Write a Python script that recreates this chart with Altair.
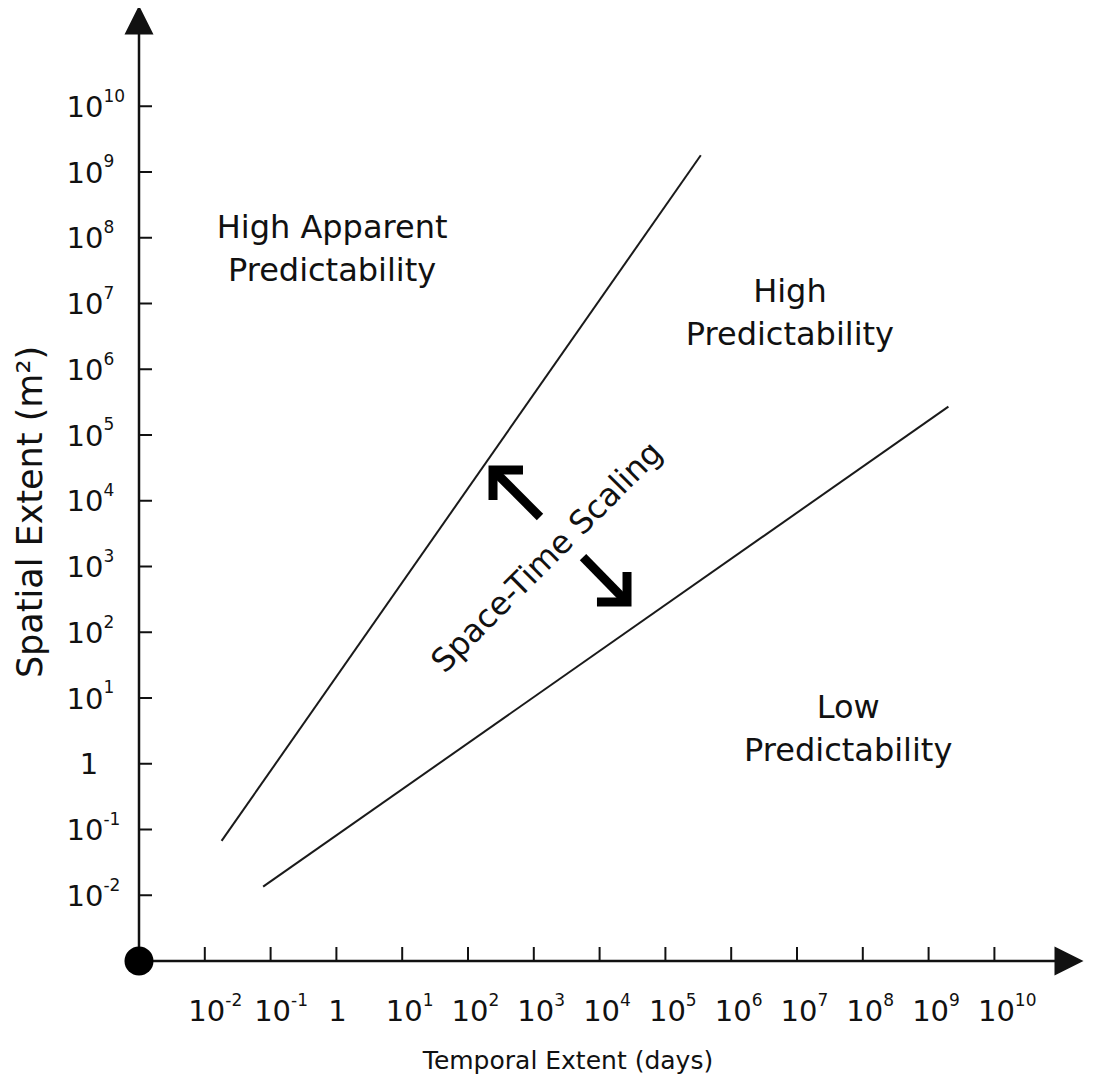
import altair as alt
import pandas as pd

# ---------------- data ----------------
tick_exponents = [-2, -1, 0, 1, 2, 3, 4, 5, 6, 7, 8, 9, 10]
tick_bases = ["10", "10", "1", "10", "10", "10", "10", "10", "10", "10", "10", "10", "10"]
tick_supers = ["-2", "-1", "", "1", "2", "3", "4", "5", "6", "7", "8", "9", "10"]

line_names = ["apparent", "limit"]
line_time_start = [0.018, 0.077]
line_time_end = [3.45e5, 2.0e9]
line_space_start = [0.067, 0.0135]
line_space_end = [1.8e9, 2.7e5]

region_labels = ["High Apparent\nPredictability", "High\nPredictability", "Low\nPredictability"]
region_time = [0.86, 7.8e6, 6.0e7]
region_space = [1.41e8, 1.5e7, 7.05]

scaling_label = ["Space-Time Scaling"]
scaling_time = [1600.0]
scaling_space = [1380.0]

arrow_part = ["up_shaft", "up_shaft", "up_head", "up_head", "up_head",
              "dn_shaft", "dn_shaft", "dn_head", "dn_head", "dn_head"]
arrow_time = [1242, 240, 685, 240, 240, 5598, 2.61e4, 9120, 2.61e4, 2.61e4]
arrow_space = [5662, 2.94e4, 2.94e4, 2.94e4, 1.026e4, 1393, 288, 288, 288, 824]

x_title = "Temporal Extent (days)"
y_title = "Spatial Extent (m²)"

# ---------------- layout ----------------
FONT = "DejaVu Sans"
INK = "#111111"
PX_X = 65.8
PX_Y = 65.75
W = 933
H = 947
AXIS_MIN = 1e-3
X_MAX = 10 ** (-3 + W / PX_X)
Y_MAX = 10 ** (-3 + H / PX_Y)
X_ARROW = 10 ** (-3 + (W - 3) / PX_X)
Y_ARROW = 10 ** (-3 + (H - 6) / PX_Y)

xs = alt.Scale(type="log", domain=[AXIS_MIN, X_MAX], nice=False)
ys = alt.Scale(type="log", domain=[AXIS_MIN, Y_MAX], nice=False)


def X(field):
    return alt.X(field, type="quantitative", scale=xs, axis=None)


def Y(field):
    return alt.Y(field, type="quantitative", scale=ys, axis=None)


ticks = pd.DataFrame({
    "v": [10.0 ** e for e in tick_exponents],
    "base": tick_bases,
    "sup": tick_supers,
})
ticks10 = ticks[ticks["base"] == "10"]
ticks1 = ticks[ticks["base"] == "1"]

lines = pd.DataFrame({
    "name": line_names * 2,
    "t": line_time_start + line_time_end,
    "s": line_space_start + line_space_end,
    "o": [0, 0, 1, 1],
})

regions = pd.DataFrame({"label": region_labels, "t": region_time, "s": region_space})
scaling = pd.DataFrame({"label": scaling_label, "t": scaling_time, "s": scaling_space})
arrows = pd.DataFrame({
    "part": arrow_part,
    "t": arrow_time,
    "s": arrow_space,
    "o": list(range(len(arrow_part))),
})

axes_pts = pd.DataFrame({
    "t": [AXIS_MIN, AXIS_MIN],
    "s": [AXIS_MIN, AXIS_MIN],
    "t2": [AXIS_MIN, X_ARROW],
    "s2": [Y_ARROW, AXIS_MIN],
})
origin = pd.DataFrame({"t": [AXIS_MIN], "s": [AXIS_MIN]})
yarrow = pd.DataFrame({"t": [AXIS_MIN], "s": [Y_ARROW]})
xarrow = pd.DataFrame({"t": [X_ARROW], "s": [AXIS_MIN]})
titles = pd.DataFrame({"xt": [x_title], "yt": [y_title]})

# ---------------- layers ----------------
axis_lines = alt.Chart(axes_pts).mark_rule(color=INK, strokeWidth=2.5).encode(
    x=X("t"), y=Y("s"), x2="t2", y2="s2"
)

y_arrow = alt.Chart(yarrow).mark_point(
    shape="M0,-1L1,1L-1,1Z", size=841, filled=True, opacity=1, color=INK
).encode(x=X("t"), y=Y("s"))

x_arrow = alt.Chart(xarrow).mark_point(
    shape="M1,0L-1,1L-1,-1Z", size=841, filled=True, opacity=1, color=INK
).encode(x=X("t"), y=Y("s"))

origin_dot = alt.Chart(origin).mark_point(
    shape="circle", size=841, filled=True, opacity=1, color="black"
).encode(x=X("t"), y=Y("s"))

y_ticks = alt.Chart(ticks).mark_rule(color=INK, strokeWidth=2).encode(
    y=Y("v"), x=alt.value(0), x2=alt.value(13)
)
x_ticks = alt.Chart(ticks).mark_rule(color=INK, strokeWidth=2).encode(
    x=X("v"), y=alt.value(H), y2=alt.value(H - 14)
)

BASE_FS = 29
SUP_FS = 17
y_lab_base = alt.Chart(ticks10).mark_text(
    font=FONT, fontSize=BASE_FS, color=INK, align="left", baseline="alphabetic",
    dx=-72.5, dy=10.6
).encode(y=Y("v"), x=alt.value(0), text="base:N")
y_lab_sup = alt.Chart(ticks10).mark_text(
    font=FONT, fontSize=SUP_FS, color=INK, align="left", baseline="alphabetic",
    dx=-72.5 + 1.272 * BASE_FS, dy=-4.6
).encode(y=Y("v"), x=alt.value(0), text="sup:N")
y_lab_one = alt.Chart(ticks1).mark_text(
    font=FONT, fontSize=BASE_FS, color=INK, align="center", baseline="alphabetic",
    dx=-50, dy=10.6
).encode(y=Y("v"), x=alt.value(0), text="base:N")

x_lab_base = alt.Chart(ticks10).mark_text(
    font=FONT, fontSize=BASE_FS, color=INK, align="center", baseline="alphabetic",
    dx=2, dy=60
).encode(x=X("v"), y=alt.value(H), text="base:N")
x_lab_sup = alt.Chart(ticks10).mark_text(
    font=FONT, fontSize=SUP_FS, color=INK, align="left", baseline="alphabetic",
    dx=2 + 1.272 * BASE_FS / 2, dy=45
).encode(x=X("v"), y=alt.value(H), text="sup:N")
x_lab_one = alt.Chart(ticks1).mark_text(
    font=FONT, fontSize=BASE_FS, color=INK, align="center", baseline="alphabetic",
    dx=1, dy=60
).encode(x=X("v"), y=alt.value(H), text="base:N")

boundary = alt.Chart(lines).mark_line(color="#1a1a1a", strokeWidth=2).encode(
    x=X("t"), y=Y("s"), detail="name:N", order="o:Q"
)

region_text = alt.Chart(regions).mark_text(
    font=FONT, fontSize=32, color=INK, align="center", baseline="middle",
    lineBreak="\n", lineHeight=43
).encode(x=X("t"), y=Y("s"), text="label:N")

scaling_text = alt.Chart(scaling).mark_text(
    font=FONT, fontSize=32, color=INK, align="center", baseline="middle", angle=315
).encode(x=X("t"), y=Y("s"), text="label:N")

scaling_arrows = alt.Chart(arrows).mark_line(
    color="black", strokeWidth=9, strokeJoin="miter", strokeCap="butt"
).encode(x=X("t"), y=Y("s"), detail="part:N", order="o:Q")

x_title_txt = alt.Chart(titles).mark_text(
    font=FONT, fontSize=25, color=INK, align="center", baseline="middle"
).encode(x=alt.value(429), y=alt.value(H + 100), text="xt:N")

y_title_txt = alt.Chart(titles).mark_text(
    font=FONT, fontSize=35, color=INK, align="center", baseline="middle", angle=270
).encode(x=alt.value(-108), y=alt.value(498), text="yt:N")

chart = alt.layer(
    boundary, scaling_arrows, axis_lines, y_ticks, x_ticks, y_arrow, x_arrow, origin_dot,
    y_lab_base, y_lab_sup, y_lab_one, x_lab_base, x_lab_sup, x_lab_one,
    region_text, scaling_text, x_title_txt, y_title_txt
).properties(
    width=W, height=H,
    autosize=alt.AutoSizeParams(type="none"),
    padding={"left": 131, "top": 6, "right": 13, "bottom": 117},
).configure(background="white").configure_view(strokeWidth=0)

chart.save("out.html", embed_options={"renderer": "svg", "actions": False})
